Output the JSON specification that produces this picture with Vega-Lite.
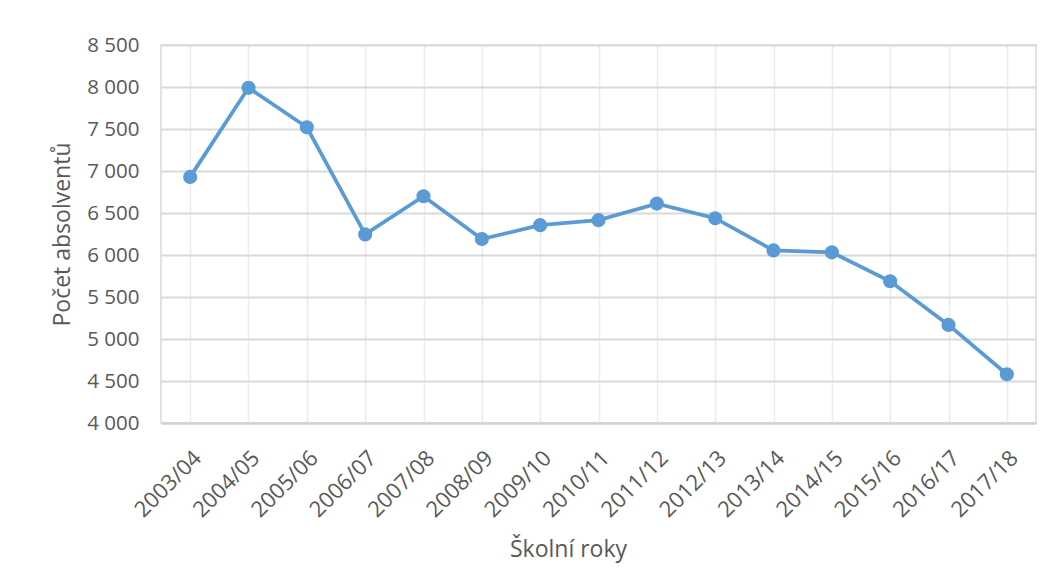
{
  "$schema": "https://vega.github.io/schema/vega-lite/v6.json",
  "autosize": {"type": "none"},
  "padding": {"left": 161, "top": 45, "right": 18, "bottom": 161},
  "width": 875,
  "height": 378,
  "background": "white",
  "data": {"values": [
    {"rok": "2003/04", "pocet": 6930},
    {"rok": "2004/05", "pocet": 7990},
    {"rok": "2005/06", "pocet": 7520},
    {"rok": "2006/07", "pocet": 6245},
    {"rok": "2007/08", "pocet": 6700},
    {"rok": "2008/09", "pocet": 6190},
    {"rok": "2009/10", "pocet": 6355},
    {"rok": "2010/11", "pocet": 6415},
    {"rok": "2011/12", "pocet": 6612},
    {"rok": "2012/13", "pocet": 6438},
    {"rok": "2013/14", "pocet": 6055},
    {"rok": "2014/15", "pocet": 6032},
    {"rok": "2015/16", "pocet": 5687},
    {"rok": "2016/17", "pocet": 5168},
    {"rok": "2017/18", "pocet": 4580}
  ]},
  "encoding": {
    "x": {
      "field": "rok", "type": "ordinal", "sort": null,
      "scale": {"type": "point", "padding": 0.5},
      "axis": {
        "title": "Školní roky",
        "titleFont": "Open Sans", "titleFontSize": 23, "titleFontWeight": "normal", "titleColor": "#595959",
        "titleX": 407, "titlePadding": 18,
        "labelFont": "Open Sans", "labelFontSize": 22, "labelColor": "#595959",
        "labelAngle": -45, "labelPadding": 24,
        "grid": true, "gridColor": "#ebebeb", "gridWidth": 1.5,
        "domainColor": "#d0d0d0", "domainWidth": 2,
        "ticks": false
      }
    },
    "y": {
      "field": "pocet", "type": "quantitative",
      "scale": {"domain": [4000, 8500], "nice": false, "zero": false},
      "axis": {
        "values": [4000, 4500, 5000, 5500, 6000, 6500, 7000, 7500, 8000, 8500],
        "labelExpr": "replace(format(datum.value, ','), ',', ' ')",
        "title": "Počet absolventů",
        "titleFont": "Open Sans", "titleFontSize": 23, "titleFontWeight": "normal", "titleColor": "#595959",
        "titlePadding": 12,
        "labelFont": "Open Sans", "labelFontSize": 20.5, "labelColor": "#595959",
        "labelPadding": 22,
        "grid": true, "gridColor": "#d9d9d9", "gridWidth": 2,
        "domain": false, "ticks": false
      }
    }
  },
  "layer": [
    {"mark": {"type": "line", "color": "#5b9bd5", "strokeWidth": 3.75}},
    {"mark": {"type": "point", "filled": true, "color": "#5b9bd5", "size": 200, "opacity": 1}}
  ],
  "config": {
    "view": {"stroke": "#d9d9d9", "strokeWidth": 1.5}
  }
}
